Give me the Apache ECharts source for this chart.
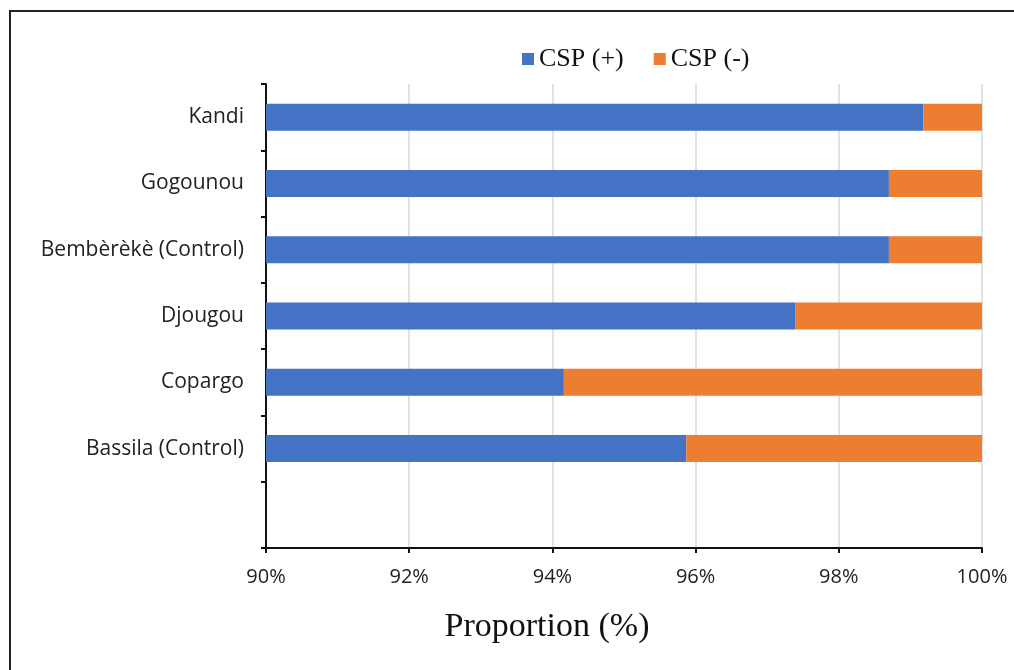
<!DOCTYPE html>
<html><head><meta charset="utf-8">
<script src="https://cdn.jsdelivr.net/npm/echarts@6/dist/echarts.min.js"></script>
<style>html,body{margin:0;padding:0;background:#fff;}#c{width:1014px;height:670px;}</style>
</head><body><div id="c"></div>
<script>
const categories = ['', 'Bassila (Control)', 'Copargo', 'Djougou', 'Bembèrèkè (Control)', 'Gogounou', 'Kandi'];
const cspPos = [null, 95.87, 94.16, 97.39, 98.70, 98.70, 99.18];
const cspNeg = [null, 4.13, 5.84, 2.61, 1.30, 1.30, 0.82];
const seriesNames = ['CSP (+)', 'CSP (-)'];
const xMin = 90, xMax = 100, xStep = 2;

const chart = echarts.init(document.getElementById('c'), null, {renderer: 'canvas'});
chart.setOption({
  animation: false,
  backgroundColor: '#fff',
  graphic: [{type: 'rect', shape: {x: 10, y: 11, width: 1030, height: 700}, style: {fill: 'none', stroke: '#222', lineWidth: 2}, z: 100}],
  legend: {
    top: 41, left: 517, itemWidth: 12, itemHeight: 12, itemGap: 30,
    icon: 'rect',
    textStyle: {fontFamily: 'Liberation Serif', fontSize: 26, color: '#111'},
    data: seriesNames
  },
  grid: {left: 266, right: 32, top: 84, bottom: 122},
  xAxis: {
    type: 'value', min: xMin, max: xMax, interval: xStep,
    name: 'Proportion (%)', nameLocation: 'middle', nameGap: 62,
    nameTextStyle: {fontFamily: 'Liberation Serif', fontSize: 34, color: '#111', padding: [0, 154, 0, 0]},
    axisLine: {show: true, lineStyle: {color: '#111', width: 2}},
    axisTick: {show: true, length: 5, lineStyle: {color: '#111', width: 2}},
    axisLabel: {formatter: v => v + '%', fontFamily: 'Open Sans', fontSize: 20, color: '#222', margin: 19},
    splitLine: {show: true, lineStyle: {color: '#d9d9d9', width: 1.5}}
  },
  yAxis: {
    type: 'category', data: categories,
    axisLine: {show: true, lineStyle: {color: '#111', width: 2}},
    axisTick: {show: true, length: 5, lineStyle: {color: '#111', width: 2}},
    axisLabel: {fontFamily: 'Open Sans', fontSize: 21, color: '#222', margin: 22}
  },
  series: [
    {name: seriesNames[0], type: 'bar', stack: 's', data: cspPos, barWidth: 27, itemStyle: {color: '#4472c4'}},
    {name: seriesNames[1], type: 'bar', stack: 's', data: cspNeg, barWidth: 27, itemStyle: {color: '#ed7d31'}}
  ]
});
</script></body></html>
